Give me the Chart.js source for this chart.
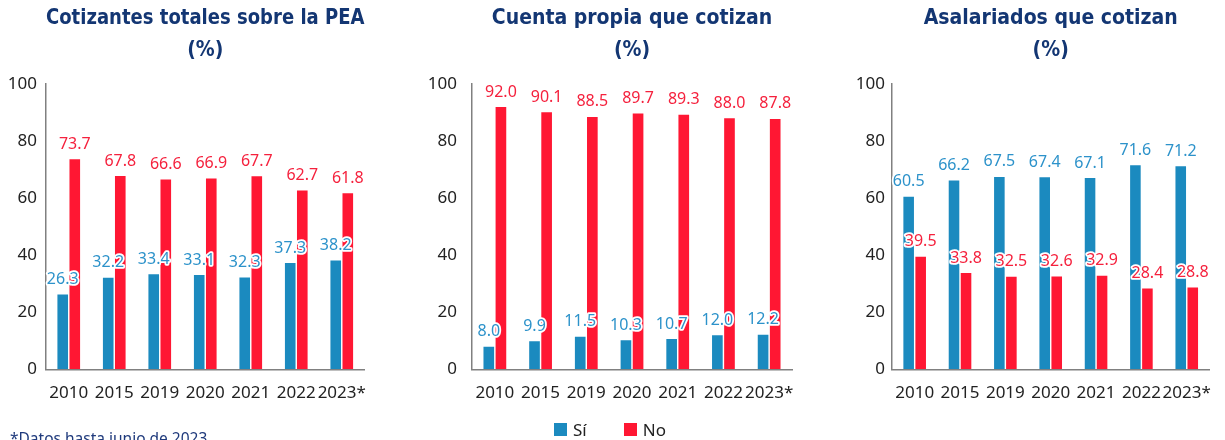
<!DOCTYPE html>
<html>
<head>
<meta charset="utf-8">
<script src="https://cdn.jsdelivr.net/npm/chart.js@4"></script>
<style>
  html, body { margin: 0; padding: 0; background: #fff; overflow: hidden; }
  #wrap { position: relative; width: 1225px; height: 440px; }
  #wrap canvas { position: absolute; top: 0; }
  #leyenda { position: absolute; left: 554px; top: 418px; display: flex; gap: 0; font: 17px "Noto Sans", sans-serif; color: #222; }
  #leyenda span.item { display: flex; align-items: center; margin-right: 37px; }
  #leyenda span.caja { display: inline-block; width: 13px; height: 13px; margin-right: 6px; }
  #nota { position: absolute; left: 10px; top: 427px; font: 15.5px "Noto Sans", sans-serif; color: #1f3a7c; white-space: nowrap; }
</style>
</head>
<body>
<div id="wrap">
  <canvas id="chartTotal" width="380" height="423" style="left:0"></canvas>
  <canvas id="chartPropia" width="390" height="423" style="left:420px"></canvas>
  <canvas id="chartAsal" width="385" height="423" style="left:840px"></canvas>
  <div id="leyenda"></div>
  <div id="nota">*Datos hasta junio de 2023</div>
</div>
<script>
// Datos
const anios = ['2010', '2015', '2019', '2020', '2021', '2022', '2023*'];
const totalSi = [26.3, 32.2, 33.4, 33.1, 32.3, 37.3, 38.2];
const totalNo = [73.7, 67.8, 66.6, 66.9, 67.7, 62.7, 61.8];
const propiaSi = [8.0, 9.9, 11.5, 10.3, 10.7, 12.0, 12.2];
const propiaNo = [92.0, 90.1, 88.5, 89.7, 89.3, 88.0, 87.8];
const asalSi = [60.5, 66.2, 67.5, 67.4, 67.1, 71.6, 71.2];
const asalNo = [39.5, 33.8, 32.5, 32.6, 32.9, 28.4, 28.8];
const ejeY = { min: 0, max: 100, paso: 20 };

const AZUL = '#1b8abf';
const ROJO = '#ff1733';
const AZUL_TXT = '#2c92ca';
const ROJO_TXT = '#f5213d';
const NAVY = '#133673';
const FUENTE = '"Noto Sans", sans-serif';
const FUENTE_TIT = '"Liberation Sans Narrow", "DejaVu Sans Condensed", Roboto, sans-serif';

// Etiquetas de valor sobre cada barra, con borde blanco
const etiquetas = {
    id: 'etiquetas',
    afterDatasetsDraw(chart) {
        const ctx = chart.ctx;
        ctx.save();
        ctx.font = '16px ' + FUENTE;
        ctx.textAlign = 'center';
        ctx.textBaseline = 'middle';
        ctx.lineJoin = 'round';
        ctx.lineWidth = 3.5;
        ctx.strokeStyle = '#fff';
        chart.data.datasets.forEach((ds, i) => {
            const meta = chart.getDatasetMeta(i);
            meta.data.forEach((bar, j) => {
                const txt = ds.data[j].toFixed(1);
                const y = bar.y - 15;
                ctx.strokeText(txt, bar.x, y);
                ctx.fillStyle = ds.colorTexto;
                ctx.fillText(txt, bar.x, y);
            });
        });
        ctx.restore();
    }
};

function crearGrafico(id, titulo, si, no, anchoEje, padDer, padTicks) {
    return new Chart(document.getElementById(id), {
        type: 'bar',
        data: {
            labels: anios,
            datasets: [
                { label: 'Sí', data: si, backgroundColor: AZUL, colorTexto: AZUL_TXT },
                { label: 'No', data: no, backgroundColor: ROJO, colorTexto: ROJO_TXT }
            ]
        },
        options: {
            responsive: false,
            animation: false,
            layout: { padding: { right: padDer, bottom: 7 } },
            datasets: { bar: { categoryPercentage: 0.53, barPercentage: 0.88 } },
            plugins: {
                legend: { display: false },
                tooltip: { enabled: false },
                title: {
                    display: true,
                    fullSize: false,
                    text: [titulo, '(%)'],
                    color: NAVY,
                    font: { family: FUENTE_TIT, size: 21, weight: 'bold', lineHeight: 1.55 },
                    padding: { top: 2, bottom: 17 }
                }
            },
            scales: {
                x: {
                    grid: { display: true, drawOnChartArea: false, drawTicks: false },
                    border: { display: true, color: '#808080', width: 1.5 },
                    ticks: { color: '#222', font: { family: FUENTE, size: 17 }, padding: 13, maxRotation: 0, minRotation: 0, autoSkip: false }
                },
                y: {
                    min: ejeY.min,
                    max: ejeY.max,
                    grid: { display: true, drawOnChartArea: false, drawTicks: false },
                    border: { display: true, color: '#808080', width: 1.5 },
                    ticks: { stepSize: ejeY.paso, color: '#222', font: { family: FUENTE, size: 17 }, padding: padTicks },
                    afterFit(scale) { scale.width = anchoEje; }
                }
            }
        },
        plugins: [etiquetas]
    });
}

const g1 = crearGrafico('chartTotal', 'Cotizantes totales sobre la PEA', totalSi, totalNo, 46, 13, 9);
const g2 = crearGrafico('chartPropia', 'Cuenta propia que cotizan', propiaSi, propiaNo, 52, 18, 15);
const g3 = crearGrafico('chartAsal', 'Asalariados que cotizan', asalSi, asalNo, 52, 13, 7);

// Leyenda HTML común, a partir de los elementos de leyenda de Chart.js
const cont = document.getElementById('leyenda');
g2.options.plugins.legend.labels.generateLabels(g2).forEach(item => {
    const el = document.createElement('span');
    el.className = 'item';
    const caja = document.createElement('span');
    caja.className = 'caja';
    caja.style.background = item.fillStyle;
    el.appendChild(caja);
    el.appendChild(document.createTextNode(item.text));
    cont.appendChild(el);
});
</script>
</body>
</html>
